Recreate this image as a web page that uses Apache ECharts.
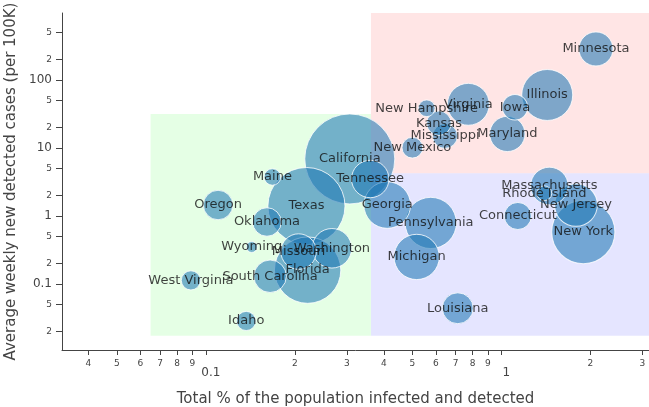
<!DOCTYPE html>
<html>
<head>
<meta charset="utf-8">
<script src="https://cdn.jsdelivr.net/npm/echarts@6/dist/echarts.min.js"></script>
<style>
html,body{margin:0;padding:0;background:#fff;}
#chart{width:649px;height:407px;}
</style>
</head>
<body>
<div id="chart"></div>
<script>
// ---- data ----
const states = ["California","Texas","Florida","New York","Pennsylvania","Illinois","Georgia","Michigan","New Jersey","Virginia","Washington","Massachusetts","Tennessee","Missouri","Maryland","Minnesota","South Carolina","Louisiana","Oregon","Oklahoma","Connecticut","Iowa","Mississippi","Kansas","New Mexico","West Virginia","Idaho","New Hampshire","Maine","Rhode Island","Wyoming"];
const pctInfected = [0.307,0.219,0.221,1.894,0.577,1.43,0.411,0.517,1.789,0.773,0.267,1.454,0.36,0.206,1.048,2.09,0.165,0.712,0.110,0.161,1.137,1.112,0.645,0.615,0.50,0.089,0.137,0.559,0.168,1.398,0.143];
const weeklyCases = [6.9,1.40,0.16,0.58,0.79,60.2,1.45,0.25,1.45,43.9,0.335,2.76,3.5,0.30,16.1,286,0.13,0.044,1.45,0.816,1.0,39.7,15.0,23.1,10.1,0.113,0.0286,38.4,3.75,2.16,0.35];
const population = [39.5,29.0,21.5,19.45,12.8,12.67,10.6,9.99,8.88,8.54,7.61,6.89,6.83,6.14,6.05,5.64,5.15,4.65,4.22,3.96,3.57,3.16,2.98,2.91,2.10,1.79,1.79,1.36,1.34,1.06,0.58];

const xTickValues = [0.04,0.05,0.06,0.07,0.08,0.09,0.1,0.2,0.3,0.4,0.5,0.6,0.7,0.8,0.9,1,2,3];
const xTickLabels = ["4","5","6","7","8","9","0.1","2","3","4","5","6","7","8","9","1","2","3"];
const xMajorTicks = [0.1,1];
const yTickValues = [0.02,0.05,0.1,0.2,0.5,1,2,5,10,20,50,100,200,500];
const yTickLabels = ["2","5","0.1","2","5","1","2","5","10","2","5","100","2","5"];
const yMajorTicks = [0.1,1,10,100];

// zones: [xFrom, yFrom, xTo, yTo]
const zoneGreen = [0.065,0.0174,0.362,31.6];
const zonePink = [0.362,4.25,3.16,966];
const zoneBlue = [0.362,0.0174,3.16,4.25];

// ---- chart ----
const FONT = 'DejaVu Sans';
function near(a,b){return Math.abs(Math.log(a)-Math.log(b))<1e-6;}
function makeFmt(vals,labels,majors){
  return function(v){
    let i = vals.findIndex(t=>near(t,v));
    if(i<0) return '';
    const big = majors.some(m=>near(m,v));
    return big ? '{b|'+labels[i]+'}' : '{s|'+labels[i]+'}';
  };
}
const data = states.map((s,i)=>({name:s,value:[pctInfected[i],weeklyCases[i],population[i]]}));
const chart = echarts.init(document.getElementById('chart'),null,{renderer:'canvas'});
chart.setOption({
  animation:false,
  textStyle:{fontFamily:FONT},
  grid:{left:62,right:0,top:13,bottom:57,containLabel:false,outerBoundsMode:'none'},
  xAxis:{type:'log',logBase:10,min:0.0326,max:3.16,
    name:'Total % of the population infected and detected',nameLocation:'middle',nameGap:42,
    nameTextStyle:{fontFamily:FONT,fontSize:15,color:'#444'},
    axisLine:{show:true,lineStyle:{color:'#444',width:1}},
    axisTick:{show:true,length:5,lineStyle:{color:'#444'},customValues:xTickValues},
    splitLine:{show:false},minorTick:{show:false},
    axisLabel:{customValues:xTickValues,margin:9,formatter:makeFmt(xTickValues,xTickLabels,xMajorTicks),
      rich:{s:{fontFamily:FONT,fontSize:9,color:'#444'},b:{fontFamily:FONT,fontSize:12,color:'#444',padding:[8,0,0,10]}}}
  },
  yAxis:{type:'log',logBase:10,min:0.0107,max:966,
    name:'Average weekly new detected cases (per 100K)',nameLocation:'middle',nameGap:40,
    nameTextStyle:{fontFamily:FONT,fontSize:15,color:'#444'},
    axisLine:{show:true,lineStyle:{color:'#444',width:1}},
    axisTick:{show:true,length:6,lineStyle:{color:'#444'},customValues:yTickValues},
    splitLine:{show:false},minorTick:{show:false},
    axisLabel:{customValues:yTickValues,margin:10,formatter:makeFmt(yTickValues,yTickLabels,yMajorTicks),
      rich:{s:{fontFamily:FONT,fontSize:9,color:'#444'},b:{fontFamily:FONT,fontSize:12,color:'#444'}}}
  },
  series:[
    {type:'scatter',data:[],z:1,silent:true,
      markArea:{silent:true,data:[
        [{coord:[zoneGreen[0],zoneGreen[1]],itemStyle:{color:'rgba(0,255,0,0.1)'}},{coord:[zoneGreen[2],zoneGreen[3]]}],
        [{coord:[zonePink[0],zonePink[1]],itemStyle:{color:'rgba(255,0,0,0.1)'}},{coord:[zonePink[2],zonePink[3]]}],
        [{coord:[zoneBlue[0],zoneBlue[1]],itemStyle:{color:'rgba(0,0,255,0.1)'}},{coord:[zoneBlue[2],zoneBlue[3]]}]
      ]}},
    {type:'scatter',z:5,data:data,
      symbolSize:function(v){return 90*Math.sqrt(v[2]/39.5);},
      itemStyle:{color:'rgba(31,119,180,0.72)',borderColor:'#fff',borderWidth:1},
      label:{show:true,position:'inside',formatter:'{b}',fontFamily:FONT,fontSize:13,color:'#111'},
      emphasis:{disabled:true}}
  ]
});
</script>
</body>
</html>
